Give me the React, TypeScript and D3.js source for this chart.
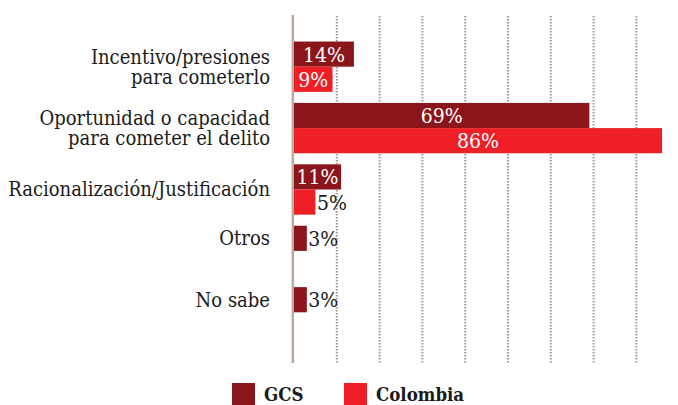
import React, { useEffect, useRef } from 'react';
import * as d3 from 'd3';

// categories (multi-line labels split on "\n")
const categories = [
  'Incentivo/presiones\npara cometerlo',
  'Oportunidad o capacidad\npara cometer el delito',
  'Racionalización/Justificación',
  'Otros',
  'No sabe',
];
const seriesNames = ['GCS', 'Colombia'];
const gcsValues = [14, 69, 11, 3, 3];
const colombiaValues: (number | null)[] = [9, 86, 5, null, null];
const gridTicks = [10, 20, 30, 40, 50, 60, 70, 80, 90];

const W = 678;
const H = 405;
const FONT = 'DejaVu Serif Condensed, DejaVu Serif, serif';

export default function App() {
  const ref = useRef<SVGSVGElement | null>(null);

  useEffect(() => {
    const svg = d3.select(ref.current);
    svg.selectAll('*').remove();

    const x = d3.scaleLinear().domain([0, 100]).range([294, 722]);
    const y = d3.scaleBand().domain(categories).range([36, 343]).paddingInner(0.18).paddingOuter(0.09);
    const sub = d3.scaleBand().domain(seriesNames).range([0, y.bandwidth()]);
    const color = d3.scaleOrdinal<string>().domain(seriesNames).range(['#8a161b', '#ee1f26']);

    // dotted gridlines
    svg.append('g')
      .selectAll('line')
      .data(gridTicks)
      .enter().append('line')
      .attr('x1', d => x(d)).attr('x2', d => x(d))
      .attr('y1', 16).attr('y2', 363)
      .attr('stroke', '#a8968a')
      .attr('stroke-width', 2)
      .attr('stroke-dasharray', '1.4,1.6');

    // axis line
    svg.append('line')
      .attr('x1', 292.8).attr('x2', 292.8)
      .attr('y1', 15).attr('y2', 363)
      .attr('stroke', '#bcaa9c')
      .attr('stroke-width', 2.5);

    const rows = categories.map((c, i) => {
      const bars = [
        { key: 'GCS', value: gcsValues[i] },
        { key: 'Colombia', value: colombiaValues[i] },
      ].filter(b => b.value != null) as { key: string; value: number }[];
      return { cat: c, bars };
    });

    const g = svg.append('g')
      .selectAll('g')
      .data(rows)
      .enter().append('g')
      .attr('transform', d => 'translate(0,' + y(d.cat) + ')');

    g.selectAll('rect')
      .data(d => d.bars)
      .enter().append('rect')
      .attr('x', x(0))
      .attr('y', d => sub(d.key)!)
      .attr('width', d => x(d.value) - x(0))
      .attr('height', sub.bandwidth())
      .attr('fill', d => color(d.key));

    g.selectAll('text.val')
      .data(d => d.bars)
      .enter().append('text')
      .attr('class', 'val')
      .attr('x', d => d.value >= 9 ? (x(0) + x(d.value)) / 2 : x(d.value) + 1.5)
      .attr('y', d => sub(d.key)! + sub.bandwidth() / 2)
      .attr('dy', '0.36em')
      .attr('text-anchor', d => d.value >= 9 ? 'middle' : 'start')
      .attr('fill', d => d.value >= 9 ? '#fff' : '#1a1a1a')
      .style('font-family', FONT)
      .attr('font-size', 21)
      .text(d => d.value + '%');

    // category labels, centred on the drawn bars
    g.append('text')
      .attr('text-anchor', 'end')
      .style('font-family', FONT)
      .attr('font-size', 20)
      .attr('fill', '#1a1a1a')
      .each(function (d) {
        const lines = d.cat.split('\n');
        const centre = d.bars.length === 1 ? sub(d.bars[0].key)! + sub.bandwidth() / 2 : y.bandwidth() / 2;
        const t = d3.select(this);
        lines.forEach((l, j) => {
          t.append('tspan')
            .attr('x', 270)
            .attr('y', centre + 7 - (lines.length - 1) * 10 + j * 20)
            .text(l);
        });
      });

    // legend
    const legendX = [232, 344];
    const lg = svg.append('g')
      .selectAll('g')
      .data(seriesNames)
      .enter().append('g')
      .attr('transform', (d, i) => 'translate(' + legendX[i] + ',383)');
    lg.append('rect')
      .attr('width', 23).attr('height', 22)
      .attr('fill', d => color(d));
    lg.append('text')
      .attr('x', 32).attr('y', 17.5)
      .style('font-family', FONT)
      .attr('font-weight', 'bold')
      .attr('font-size', 18.5)
      .attr('fill', '#1a1a1a')
      .text(d => d);
  }, []);

  return (
    <svg ref={ref} width={W} height={H}
      style={{ position: 'absolute', left: 0, top: 0, background: '#fff' }} />
  );
}
